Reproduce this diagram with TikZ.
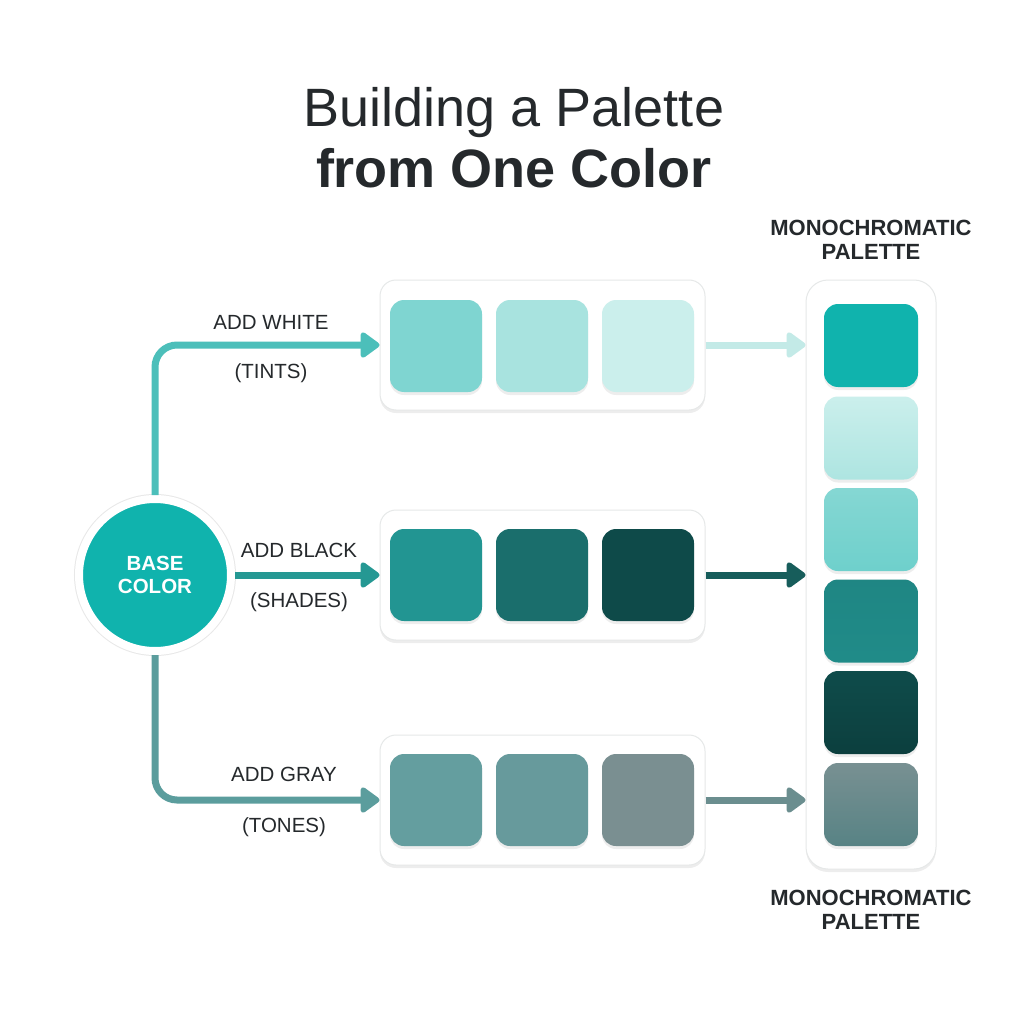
\documentclass[tikz,border=0pt]{standalone}
\usepackage{fontspec}
\setmainfont{Liberation Sans}
\usetikzlibrary{arrows.meta,shadows}

\definecolor{ink}{HTML}{25292C}
\definecolor{panelline}{HTML}{E6E8E8}
\definecolor{baseteal}{HTML}{10B3AD}
\definecolor{tintA}{HTML}{7FD5D1}
\definecolor{tintB}{HTML}{A8E3DF}
\definecolor{tintC}{HTML}{CBEFEC}
\definecolor{shadeA}{HTML}{229592}
\definecolor{shadeB}{HTML}{1A6E6C}
\definecolor{shadeC}{HTML}{0E4A49}
\definecolor{toneA}{HTML}{649E9F}
\definecolor{toneB}{HTML}{679A9C}
\definecolor{toneC}{HTML}{7A8F91}
\definecolor{flowwhite}{HTML}{4CBFBA}
\definecolor{flowblack}{HTML}{259893}
\definecolor{flowgray}{HTML}{5B9D9D}
\definecolor{outwhite}{HTML}{C3EAE7}
\definecolor{outblack}{HTML}{175D5B}
\definecolor{outgray}{HTML}{6B8E8F}

\tikzset{
  softshadow/.style={drop shadow={shadow xshift=0pt,shadow yshift=-3pt,opacity=.07,fill=black}},
  panel/.style={draw=panelline, line width=1pt, fill=white, rounded corners=16pt,
    minimum width=325pt, minimum height=130pt, inner sep=0pt, softshadow},
  swatch/.style={rounded corners=14pt, minimum size=92pt, inner sep=0pt, softshadow},
  pswatch/.style={swatch, minimum width=94pt, minimum height=83pt},
  title/.style={text=ink, inner sep=0pt, font=\fontsize{54}{60}\selectfont},
  steplabel/.style={text=ink, inner sep=0pt, font=\fontsize{20.5}{24}\selectfont},
  headlabel/.style={text=ink, inner sep=0pt, align=center, font=\fontsize{22}{24}\selectfont\bfseries},
  flow/.style={line width=7pt, -{Triangle[length=21pt,width=29pt,round]}},
}

\begin{document}
\begin{tikzpicture}[x=1pt,y=-1pt]
\fill[white] (0,0) rectangle (1024,1024);
\useasboundingbox (0,0) rectangle (1024,1024);

% title
\node[title, anchor=base] (title1) at (514,127) {Building a Palette};
\node[title, anchor=base] (title2) at (514,188) {\bfseries from One Color};

% the three mixing panels
\node[panel] (tints) at (542.5,345) {};
\node[panel] (shades) at (542.5,575) {};
\node[panel] (tones) at (542.5,800) {};

\node[swatch, fill=tintA] (t1) at (436,346) {};
\node[swatch, fill=tintB] (t2) at (542,346) {};
\node[swatch, fill=tintC] (t3) at (648,346) {};

\node[swatch, fill=shadeA] (s1) at (436,575) {};
\node[swatch, fill=shadeB] (s2) at (542,575) {};
\node[swatch, fill=shadeC] (s3) at (648,575) {};

\node[swatch, fill=toneA] (g1) at (436,800) {};
\node[swatch, fill=toneB] (g2) at (542,800) {};
\node[swatch, fill=toneC] (g3) at (648,800) {};

% result column
\node[panel, minimum width=130pt, minimum height=589pt, rounded corners=22pt] (palette) at (871,574.5) {};
\node[pswatch, fill=baseteal] (p1) at (871,345.5) {};
\node[pswatch, top color=tintC, bottom color=tintB!85!tintC] (p2) at (871,438) {};
\node[pswatch, top color=tintA!85!tintB, bottom color=tintA!85!baseteal] (p3) at (871,529.5) {};
\node[pswatch, top color=shadeA!90!black, bottom color=shadeA!75!shadeB] (p4) at (871,621) {};
\node[pswatch, top color=shadeC!95!shadeB, bottom color=shadeC!85!black] (p5) at (871,712.5) {};
\node[pswatch, top color=toneC!90!toneB, bottom color=toneB!85!black] (p6) at (871,804.5) {};

\node[headlabel] (headtop) at (871,240) {MONOCHROMATIC\\PALETTE};
\node[headlabel] (headbot) at (871,910) {MONOCHROMATIC\\PALETTE};

% base color
\node[circle, fill=baseteal, draw=white, line width=8pt, minimum size=152pt, inner sep=0pt,
  preaction={draw=black!9, line width=10pt}, softshadow,
  text=white, align=center, font=\fontsize{20.5}{23.5}\selectfont\bfseries] (base) at (155,575) {BASE\\COLOR};

% connectors
\draw[flow, flowwhite, rounded corners=22pt] (base.north) |- (tints.west);
\draw[flow, flowblack] (base.east) -- (shades.west);
\draw[flow, flowgray, rounded corners=22pt] (base.south) |- (tones.west);

\draw[flow, outwhite] (tints.east) -- (tints.east -| palette.west);
\draw[flow, outblack] (shades.east) -- (shades.east -| palette.west);
\draw[flow, outgray] (tones.east) -- (tones.east -| palette.west);

% labels
\node[steplabel, anchor=base] (addwhite) at (271,329) {ADD WHITE};
\node[steplabel, anchor=base] (tintsname) at (271,378) {(TINTS)};
\node[steplabel, anchor=base] (addblack) at (299,557) {ADD BLACK};
\node[steplabel, anchor=base] (shadesname) at (299,607) {(SHADES)};
\node[steplabel, anchor=base] (addgray) at (284,781) {ADD GRAY};
\node[steplabel, anchor=base] (tonesname) at (284,832) {(TONES)};
\end{tikzpicture}
\end{document}
